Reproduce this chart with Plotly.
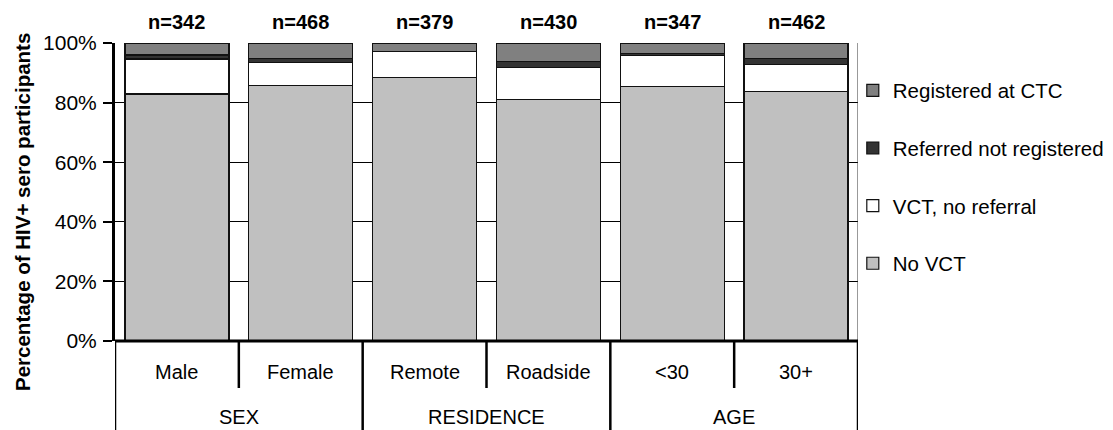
import plotly.graph_objects as go

categories = ["Male", "Female", "Remote", "Roadside", "<30", "30+"]
groups = ["SEX", "RESIDENCE", "AGE"]
n_labels = ["n=342", "n=468", "n=379", "n=430", "n=347", "n=462"]

no_vct = [82.9, 85.7, 88.4, 81.0, 85.4, 83.8]
vct_no_referral = [11.7, 7.7, 8.7, 10.8, 10.3, 9.1]
referred_not_registered = [1.4, 1.5, 0.0, 2.0, 0.9, 1.8]
registered_ctc = [4.0, 5.1, 2.9, 6.2, 3.4, 5.3]

series = [
    ("No VCT", no_vct, "#C0C0C0"),
    ("VCT, no referral", vct_no_referral, "#FFFFFF"),
    ("Referred not registered", referred_not_registered, "#333333"),
    ("Registered at CTC", registered_ctc, "#808080"),
]

FONT = "Liberation Sans, Arial, sans-serif"

W, H = 1140, 422
L, T, B = 107, 35, 89
PLOT_RIGHT = 850
R = W - PLOT_RIGHT
PH = H - T - B  # plot height in px
PW = PLOT_RIGHT - L

fig = go.Figure()
for i, (name, vals, col) in enumerate(series):
    fig.add_trace(go.Bar(
        name=name, x=categories, y=vals,
        marker=dict(color=col, line=dict(color="#111111", width=1.2)),
        legendgroup=name, legendrank=len(series) - i,
    ))

fig.update_layout(
    width=W, height=H,
    margin=dict(l=L, r=R, t=T, b=B),
    barmode="stack", bargap=0.16,
    plot_bgcolor="white", paper_bgcolor="white",
    font=dict(family=FONT, size=20.5, color="black"),
    showlegend=True,
    legend=dict(
        x=0.993, y=(PH - (177 - 8 - T)) / PH, xanchor="left", yanchor="middle",
        traceorder="grouped", tracegroupgap=28,
        font=dict(size=20.5, family=FONT), itemwidth=30,
        bgcolor="rgba(0,0,0,0)",
    ),
)

fig.update_xaxes(
    type="category", range=[-0.5, 5.5], showticklabels=False,
    showgrid=False, zeroline=False, showline=False, ticks="",
)
fig.update_yaxes(
    range=[0, 100], tickvals=[0, 20, 40, 60, 80, 100],
    ticktext=["0%", "20%", "40%", "60%", "80%", "100%"],
    showgrid=True, gridcolor="black", gridwidth=1,
    ticks="outside", ticklen=9, tickwidth=2, tickcolor="black",
    showline=True, linecolor="black", linewidth=3,
    zeroline=False, ticklabelstandoff=2,
    tickfont=dict(size=21, family=FONT),
)

shapes = []
bottom = -B / PH
mid = -47 / PH
# right border of plot area
shapes.append(dict(type="line", xref="x", yref="paper", x0=5.5, x1=5.5,
                   y0=0, y1=1, line=dict(color="#333333", width=1)))
# baseline across
shapes.append(dict(type="line", xref="x", yref="paper", x0=-0.5, x1=5.5,
                   y0=0, y1=0, line=dict(color="black", width=3)))
# vertical separators of the category table
for k in range(len(categories) + 1):
    xpos = k - 0.5
    y_end = bottom if k % 2 == 0 else mid
    shapes.append(dict(type="line", xref="x", yref="paper", x0=xpos, x1=xpos,
                       y0=0, y1=y_end, line=dict(color="black", width=2.5)))
fig.update_layout(shapes=shapes)

ann = []
for i, c in enumerate(categories):
    ann.append(dict(x=c, y=-31 / PH, xref="x", yref="paper", text=c,
                    showarrow=False, font=dict(size=20, family=FONT),
                    xanchor="center", yanchor="middle"))
    ann.append(dict(x=c, y=1.0, xref="x", yref="paper", text="<b>" + n_labels[i] + "</b>",
                    showarrow=False, font=dict(size=20, family=FONT),
                    xanchor="center", yanchor="middle", yshift=21))
for j, g in enumerate(groups):
    ann.append(dict(x=2 * j + 0.5, y=-76 / PH, xref="x", yref="paper", text=g,
                    showarrow=False, font=dict(size=20, family=FONT),
                    xanchor="center", yanchor="middle"))
# y-axis title
ann.append(dict(x=(14 - L) / PW, y=(PH - (212 - 8 - T)) / PH,
                xref="paper", yref="paper", textangle=-90,
                text="<b>Percentage of HIV+ sero participants</b>",
                showarrow=False, font=dict(size=20.5, family=FONT),
                xanchor="center", yanchor="middle"))
fig.update_layout(annotations=ann)

fig.write_html("out.html")
